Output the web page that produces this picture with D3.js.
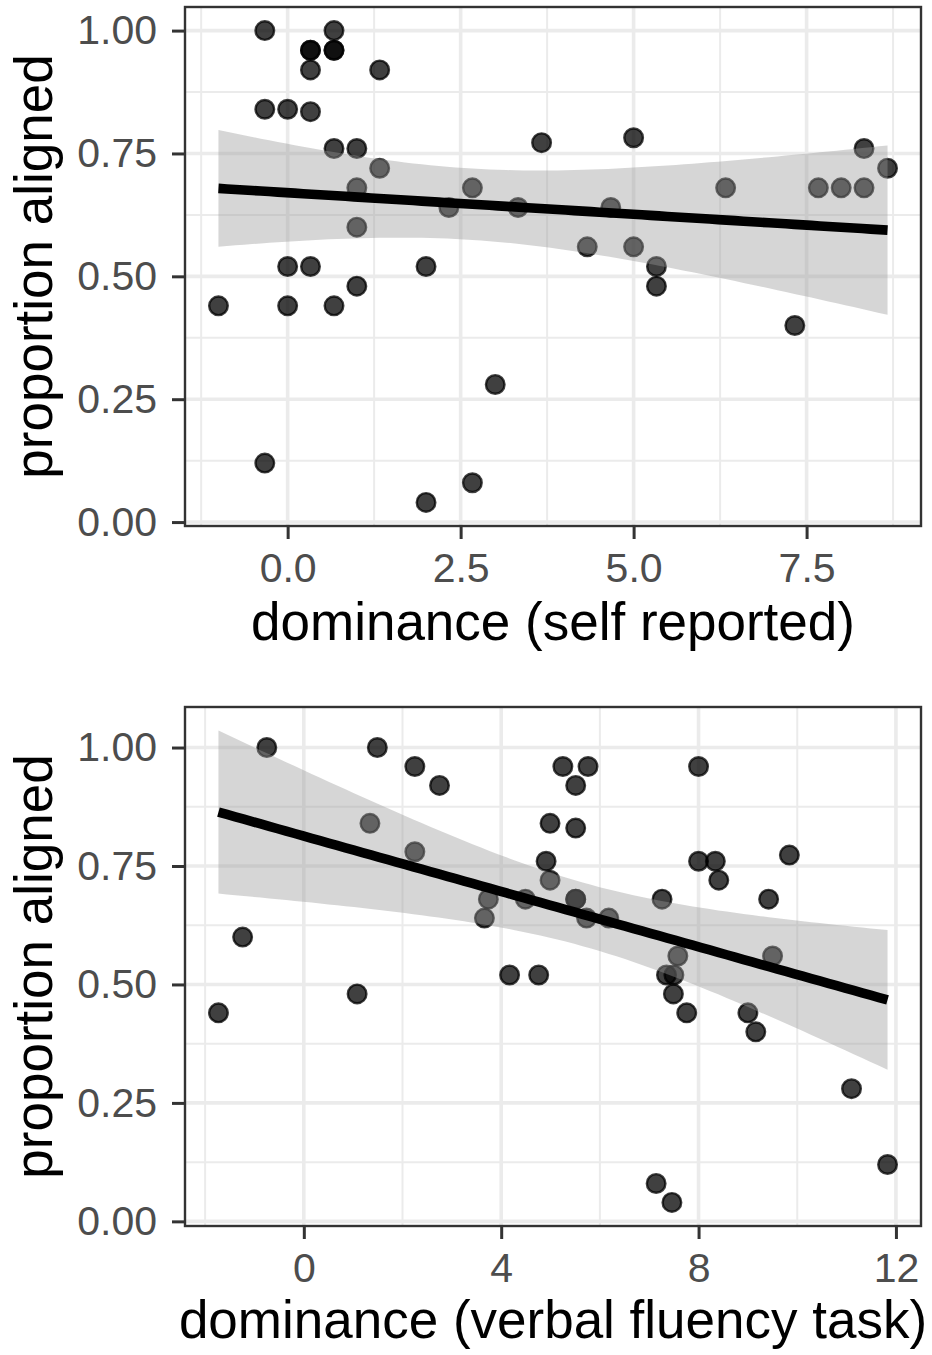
<!DOCTYPE html>
<html>
<head>
<meta charset="utf-8">
<script src="https://cdn.jsdelivr.net/npm/d3@7"></script>
<style>
  body { margin: 0; background: #fff; }
  text { font-family: "Liberation Sans", Arial, Helvetica, sans-serif; }
</style>
</head>
<body>
<svg></svg>
<script>
// top panel: dominance (self reported)
let selfX = [-0.33, 0.67, 0.33, 0.33, 0.67, 0.67, 0.33, 1.33, -0.33, 0, 0.33,
             0.67, 1.0, 1.33, 1.0, 1.0, 3.67, 5.0, 2.33, 2.67, 3.33, 4.67,
             4.33, 5.0, 5.33, 5.33, 6.33, 7.67, 8.0, 8.33, 8.33, 8.67, 7.33,
             -1.0, 0, 0.33, 0, 0.67, 1.0, 2.0, 3.0, -0.33, 2.0, 2.67]
let selfY = [1.00, 1.00, 0.96, 0.96, 0.96, 0.96, 0.92, 0.92, 0.84, 0.84, 0.835,
             0.76, 0.76, 0.72, 0.68, 0.60, 0.772, 0.782, 0.64, 0.68, 0.64, 0.64,
             0.56, 0.56, 0.52, 0.48, 0.68, 0.68, 0.68, 0.68, 0.76, 0.72, 0.40,
             0.44, 0.52, 0.52, 0.44, 0.44, 0.48, 0.52, 0.28, 0.12, 0.04, 0.08]

// bottom panel: dominance (verbal fluency task)
let verbalX = [-0.75, 1.49, 2.25, 2.75, 1.34, 2.25, 3.74, 3.66, 4.49, -1.24, 4.17,
               4.76, 1.08, -1.73, 4.99, 4.91, 4.99, 5.25, 5.76, 5.51, 8.0, 5.51,
               8.0, 8.34, 8.41, 9.84, 9.42, 7.26, 5.51, 5.51, 5.73, 6.18, 7.58,
               9.50, 7.35, 7.50, 7.49, 7.76, 9.0, 9.16, 11.1, 11.83, 7.14, 7.46]
let verbalY = [1.00, 1.00, 0.96, 0.92, 0.84, 0.78, 0.68, 0.64, 0.68, 0.60, 0.52,
               0.52, 0.48, 0.44, 0.84, 0.76, 0.72, 0.96, 0.96, 0.92, 0.96, 0.83,
               0.76, 0.76, 0.72, 0.773, 0.68, 0.68, 0.68, 0.68, 0.64, 0.64, 0.56,
               0.56, 0.52, 0.52, 0.48, 0.44, 0.44, 0.40, 0.28, 0.12, 0.08, 0.04]

// tick values + labels
let yTicks = [0, 0.25, 0.5, 0.75, 1]
let yTickLabels = ['0.00', '0.25', '0.50', '0.75', '1.00']
let yMinor = [0.125, 0.375, 0.625, 0.875]
let selfTicks = [0, 2.5, 5, 7.5]
let selfTickLabels = ['0.0', '2.5', '5.0', '7.5']
let selfMinor = [-1.25, 1.25, 3.75, 6.25, 8.75]
let verbalTicks = [0, 4, 8, 12]
let verbalTickLabels = ['0', '4', '8', '12']
let verbalMinor = [-2, 2, 6, 10]

let width = 932
let height = 1355
let tCrit = 2.018 // qt(0.975, 42)

let svg = d3.select('svg')
    .attr('width', width)
    .attr('height', height)

// linear model + 95% band, like geom_smooth(method = 'lm')
let fitLine = (xs, ys) => {
    let n = xs.length
    let mx = d3.mean(xs)
    let my = d3.mean(ys)
    let sxx = d3.sum(xs, (x) => (x - mx) * (x - mx))
    let sxy = d3.sum(xs, (x, i) => (x - mx) * (ys[i] - my))
    let b = sxy / sxx
    let a = my - b * mx
    let s2 = d3.sum(xs, (x, i) => Math.pow(ys[i] - (a + b * x), 2)) / (n - 2)
    let [x0, x1] = d3.extent(xs)
    return d3.range(80).map((i) => {
        let x = x0 + i * (x1 - x0) / 79
        let y = a + b * x
        let se = Math.sqrt(s2 * (1 / n + (x - mx) * (x - mx) / sxx))
        return { x: x, y: y, lo: y - tCrit * se, hi: y + tCrit * se }
    })
}

let expand = (ext) => {
    let pad = (ext[1] - ext[0]) * 0.05
    return [ext[0] - pad, ext[1] + pad]
}

let drawPanel = (p) => {
    let fit = fitLine(p.xs, p.ys)

    let xScale = d3.scaleLinear()
        .domain(expand(d3.extent(p.xs)))
        .range([p.left, p.right])
    let allY = p.ys.concat(fit.map((d) => d.lo), fit.map((d) => d.hi))
    let yScale = d3.scaleLinear()
        .domain(expand(d3.extent(allY)))
        .range([p.bottom, p.top])

    let g = svg.append('g')

    // grid, minor first
    g.selectAll('.vminor').data(p.xMinor).enter().append('line')
        .attr('x1', (d) => xScale(d)).attr('x2', (d) => xScale(d))
        .attr('y1', p.top).attr('y2', p.bottom)
        .attr('stroke', '#ebebeb').attr('stroke-width', 2)
    g.selectAll('.hminor').data(yMinor).enter().append('line')
        .attr('y1', (d) => yScale(d)).attr('y2', (d) => yScale(d))
        .attr('x1', p.left).attr('x2', p.right)
        .attr('stroke', '#ebebeb').attr('stroke-width', 2)
    g.selectAll('.vmajor').data(p.xTicks).enter().append('line')
        .attr('x1', (d) => xScale(d)).attr('x2', (d) => xScale(d))
        .attr('y1', p.top).attr('y2', p.bottom)
        .attr('stroke', '#ebebeb').attr('stroke-width', 3.6)
    g.selectAll('.hmajor').data(yTicks).enter().append('line')
        .attr('y1', (d) => yScale(d)).attr('y2', (d) => yScale(d))
        .attr('x1', p.left).attr('x2', p.right)
        .attr('stroke', '#ebebeb').attr('stroke-width', 3.6)

    // points
    g.selectAll('circle').data(p.xs).enter().append('circle')
        .attr('cx', (d) => xScale(d))
        .attr('cy', (d, i) => yScale(p.ys[i]))
        .attr('r', 9.3)
        .attr('fill', '#000').attr('fill-opacity', 0.75)
        .attr('stroke', '#000').attr('stroke-opacity', 0.75)
        .attr('stroke-width', 2.4)

    // confidence band drawn over the points
    let band = d3.area()
        .x((d) => xScale(d.x))
        .y0((d) => yScale(d.lo))
        .y1((d) => yScale(d.hi))
    g.append('path').datum(fit)
        .attr('d', band)
        .attr('fill', '#999999').attr('fill-opacity', 0.4)

    let line = d3.line().x((d) => xScale(d.x)).y((d) => yScale(d.y))
    g.append('path').datum(fit)
        .attr('d', line)
        .attr('fill', 'none').attr('stroke', '#000').attr('stroke-width', 9.6)

    // panel border
    g.append('rect')
        .attr('x', p.left).attr('y', p.top)
        .attr('width', p.right - p.left).attr('height', p.bottom - p.top)
        .attr('fill', 'none').attr('stroke', '#333333').attr('stroke-width', 2.4)

    // axes
    let xAxis = d3.axisBottom(xScale)
        .tickValues(p.xTicks)
        .tickFormat((d, i) => p.xTickLabels[i])
        .tickSize(13).tickPadding(14)
    let yAxis = d3.axisLeft(yScale)
        .tickValues(yTicks)
        .tickFormat((d, i) => yTickLabels[i])
        .tickSize(13).tickPadding(15)

    let xg = g.append('g')
        .attr('transform', 'translate(0,' + p.bottom + ')')
        .call(xAxis)
    let yg = g.append('g')
        .attr('transform', 'translate(' + p.left + ',0)')
        .call(yAxis)

    for (let ax of [xg, yg]) {
        ax.select('.domain').remove()
        ax.selectAll('line').attr('stroke', '#333333').attr('stroke-width', 3)
        ax.selectAll('text')
            .attr('fill', '#4d4d4d')
            .style('font-size', '41px')
            .style('font-family', '"Liberation Sans", Arial, sans-serif')
    }

    // titles
    g.append('text')
        .attr('x', (p.left + p.right) / 2)
        .attr('y', p.titleY)
        .attr('text-anchor', 'middle')
        .style('font-size', '53px')
        .attr('fill', '#000')
        .text(p.xTitle)
    g.append('text')
        .attr('transform', 'translate(52,' + ((p.top + p.bottom) / 2) + ') rotate(-90)')
        .attr('text-anchor', 'middle')
        .style('font-size', '53px')
        .attr('fill', '#000')
        .text('proportion aligned')
}

drawPanel({
    xs: selfX, ys: selfY,
    xTicks: selfTicks, xTickLabels: selfTickLabels, xMinor: selfMinor,
    left: 185, right: 921, top: 7, bottom: 526,
    titleY: 640, xTitle: 'dominance (self reported)'
})

drawPanel({
    xs: verbalX, ys: verbalY,
    xTicks: verbalTicks, xTickLabels: verbalTickLabels, xMinor: verbalMinor,
    left: 185, right: 921, top: 707, bottom: 1226,
    titleY: 1338, xTitle: 'dominance (verbal fluency task)'
})
</script>
</body>
</html>
